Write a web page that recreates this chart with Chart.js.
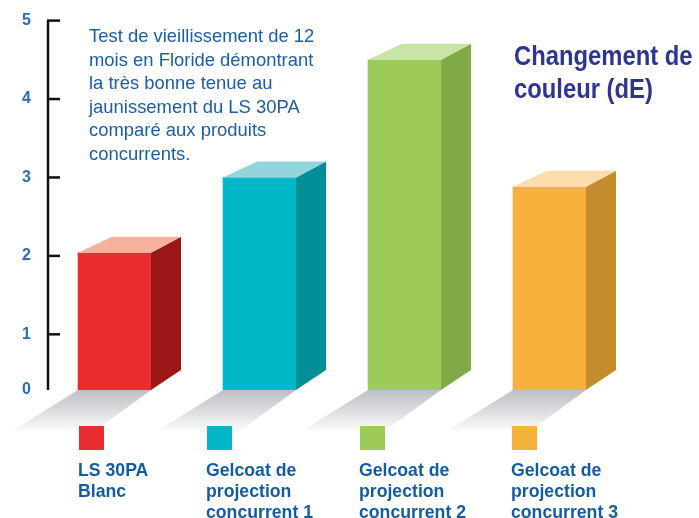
<!DOCTYPE html>
<html>
<head>
<meta charset="utf-8">
<script src="https://cdn.jsdelivr.net/npm/chart.js@4/dist/chart.umd.min.js"></script>
<style>
  html, body { margin: 0; padding: 0; background: #ffffff; overflow: hidden; }
  #wrap { position: relative; width: 699px; height: 518px; }
  canvas { display: block; }
</style>
</head>
<body>
<div id="wrap"><canvas id="c" width="699" height="518"></canvas></div>
<script>
// ---- data ----
const categories = ['LS 30PA Blanc', 'Gelcoat de projection concurrent 1', 'Gelcoat de projection concurrent 2', 'Gelcoat de projection concurrent 3'];
const values = [2.04, 3.0, 4.5, 2.88];
const legendLines = [
  ['LS 30PA', 'Blanc'],
  ['Gelcoat de', 'projection', 'concurrent 1'],
  ['Gelcoat de', 'projection', 'concurrent 2'],
  ['Gelcoat de', 'projection', 'concurrent 3']
];
const yTickValues = [0.29, 1, 2, 3, 4, 5];   // axis floor is labelled "0" in the original
const yTickLabels = ['0', '1', '2', '3', '4', '5'];
const noteLines = [
  'Test de vieillissement de 12',
  'mois en Floride démontrant',
  'la très bonne tenue au',
  'jaunissement du LS 30PA',
  'comparé aux produits',
  'concurrents.'
];
const titleLines = ['Changement de', 'couleur (dE)'];

// ---- styles ----
const frontColors = ['#ea2e30', '#00b8c8', '#9ccb59', '#f6b03c'];
const sideColors  = ['#9a1716', '#008e97', '#7fab47', '#c48e2e'];
const topColors   = ['#f6b29c', '#92d5dd', '#c9e4a7', '#fcdcaa'];
const legendX = [79, 207, 360, 512];

const SANS = '"Liberation Sans", Arial, sans-serif';

function condensedText(ctx, text, x, y, sx) {
  ctx.save();
  ctx.translate(x, y);
  ctx.scale(sx, 1);
  ctx.fillText(text, 0, 0);
  ctx.restore();
}

const shadowPlugin = {
  id: 'shadow3d',
  beforeDatasetsDraw(chart) {
    const ctx = chart.ctx;
    const meta = chart.getDatasetMeta(0);
    meta.data.forEach((el) => {
      const L = el.x - el.width / 2, R = el.x + el.width / 2, B = el.base;
      ctx.save();
      const g = ctx.createLinearGradient(0, B, 0, B + 41);
      g.addColorStop(0, 'rgba(190,191,194,1)');
      g.addColorStop(0.6, 'rgba(225,226,228,1)');
      g.addColorStop(1, 'rgba(252,252,252,1)');
      ctx.fillStyle = g;
      ctx.beginPath();
      ctx.moveTo(L, B);
      ctx.lineTo(R, B);
      ctx.lineTo(R - 56, B + 41);
      ctx.lineTo(L - 66, B + 41);
      ctx.closePath();
      ctx.fill();
      ctx.restore();
    });
  },
  afterDatasetsDraw(chart) {
    const ctx = chart.ctx;
    const meta = chart.getDatasetMeta(0);
    meta.data.forEach((el, i) => {
      const L = el.x - el.width / 2, R = el.x + el.width / 2, T = el.y, B = el.base;
      ctx.save();
      ctx.fillStyle = sideColors[i];
      ctx.beginPath();
      ctx.moveTo(R, T);
      ctx.lineTo(R + 30, T - 16);
      ctx.lineTo(R + 30, B - 20);
      ctx.lineTo(R, B);
      ctx.closePath();
      ctx.fill();
      ctx.fillStyle = topColors[i];
      ctx.beginPath();
      ctx.moveTo(L, T);
      ctx.lineTo(R, T);
      ctx.lineTo(R + 30, T - 16);
      ctx.lineTo(L + 34, T - 16);
      ctx.closePath();
      ctx.fill();
      ctx.restore();
    });
  },
  afterDraw(chart) {
    const ctx = chart.ctx;
    const ys = chart.scales.y;
    const area = chart.chartArea;
    const x0 = area.left + 6;
    ctx.save();
    ctx.strokeStyle = '#111111';
    ctx.lineWidth = 2.5;
    ctx.beginPath();
    ctx.moveTo(x0, ys.getPixelForValue(ys.max));
    ctx.lineTo(x0, ys.getPixelForValue(ys.min));
    ctx.stroke();
    ys.ticks.forEach((t) => {
      if (t.value <= ys.min) return;
      const py = ys.getPixelForValue(t.value);
      ctx.beginPath();
      ctx.moveTo(x0 - 1, py);
      ctx.lineTo(x0 + 12, py);
      ctx.stroke();
    });

    const meta = chart.getDatasetMeta(0);
    ctx.textBaseline = 'alphabetic';
    ctx.textAlign = 'left';
    meta.data.forEach((el, i) => {
      ctx.fillStyle = frontColors[i];
      ctx.fillRect(legendX[i], 426, 25, 24);
      ctx.fillStyle = '#135c9e';
      ctx.font = 'bold 19px ' + SANS;
      legendLines[i].forEach((line, k) => {
        condensedText(ctx, line, legendX[i] - 1, 476 + k * 21, 0.93);
      });
    });

    ctx.fillStyle = '#1d5ea3';
    ctx.font = '19px ' + SANS;
    noteLines.forEach((line, k) => {
      condensedText(ctx, line, 89, 42 + k * 23.6, 0.97);
    });

    ctx.fillStyle = '#2e3590';
    ctx.font = 'bold 28px ' + SANS;
    titleLines.forEach((line, k) => {
      condensedText(ctx, line, 514, 65 + k * 33, 0.85);
    });
    ctx.restore();
  }
};

new Chart(document.getElementById('c'), {
  type: 'bar',
  data: {
    labels: categories,
    datasets: [{
      data: values,
      base: yTickValues[0],
      backgroundColor: frontColors,
      borderWidth: 0,
      barThickness: 73
    }]
  },
  options: {
    responsive: false,
    animation: false,
    devicePixelRatio: 1,
    layout: { padding: { left: 0, top: 19, right: 77, bottom: 128 } },
    plugins: { legend: { display: false }, tooltip: { enabled: false }, title: { display: false } },
    scales: {
      x: { display: false, offset: true },
      y: {
        min: yTickValues[0],
        max: yTickValues[yTickValues.length - 1],
        afterBuildTicks(scale) { scale.ticks = yTickValues.map(v => ({ value: v })); },
        afterFit(scale) { scale.width = 42; },
        grid: { display: false, drawTicks: false },
        border: { display: false },
        ticks: {
          padding: 11,
          color: '#2b6fb0',
          font: { family: SANS, size: 16, weight: 'bold' },
          callback: (v, idx) => yTickLabels[idx]
        }
      }
    }
  },
  plugins: [shadowPlugin]
});
</script>
</body>
</html>
